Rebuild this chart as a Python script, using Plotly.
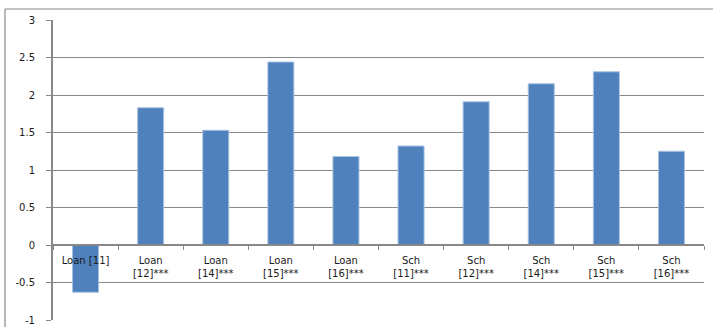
import plotly.graph_objects as go

# Categories and values
categories = [
    "Loan [11]",
    "Loan<br>[12]***",
    "Loan<br>[14]***",
    "Loan<br>[15]***",
    "Loan<br>[16]***",
    "Sch<br>[11]***",
    "Sch<br>[12]***",
    "Sch<br>[14]***",
    "Sch<br>[15]***",
    "Sch<br>[16]***",
]
values = [-0.63, 1.83, 1.53, 2.44, 1.18, 1.32, 1.91, 2.15, 2.31, 1.25]
y_ticks = [-1, -0.5, 0, 0.5, 1, 1.5, 2, 2.5, 3]

W, H = 713, 327
ML, MR, MT, MB = 53, 9, 20, 7
PW, PH = W - ML - MR, H - MT - MB

GRID = "#888888"
FONT = dict(family="DejaVu Sans", size=10, color="#1a1a1a")

fig = go.Figure(
    go.Bar(
        x=categories,
        y=values,
        marker=dict(color="#4F81BD", line=dict(color="#A9C2E0", width=1)),
        width=0.4,
    )
)

y_min, y_max = -1, 3
zero_pos = (0 - y_min) / (y_max - y_min)

fig.update_layout(
    width=W,
    height=H,
    margin=dict(l=ML, r=MR, t=MT, b=MB, pad=0, autoexpand=False),
    paper_bgcolor="white",
    plot_bgcolor="white",
    showlegend=False,
    font=FONT,
    xaxis=dict(
        type="category",
        anchor="free",
        position=zero_pos,
        automargin=False,
        showline=True,
        linecolor=GRID,
        linewidth=1.5,
        showgrid=False,
        ticks="outside",
        tickson="boundaries",
        ticklen=4,
        tickcolor=GRID,
        tickwidth=1,
        tickfont=FONT,
        tickangle=0,
        ticklabelstandoff=6,
    ),
    yaxis=dict(
        range=[y_min, y_max],
        automargin=False,
        tickvals=y_ticks,
        ticktext=[f"{v:g}" for v in y_ticks],
        showgrid=True,
        gridcolor=GRID,
        gridwidth=1,
        zeroline=False,
        showline=True,
        linecolor=GRID,
        linewidth=2,
        ticks="outside",
        ticklen=5,
        tickcolor=GRID,
        tickwidth=1,
        tickfont=FONT,
        ticklabelstandoff=9,
    ),
)

# Chart frame (left and top edges of the outer border)
fx = (5 - ML) / PW
fy = 1 + (MT - 9) / PH
fig.add_shape(type="line", xref="paper", yref="paper", x0=fx, x1=fx, y0=-0.2, y1=fy,
              line=dict(color=GRID, width=1.2))
fig.add_shape(type="line", xref="paper", yref="paper", x0=fx, x1=1.2, y0=fy, y1=fy,
              line=dict(color=GRID, width=1.2))

fig.write_html("out.html")
